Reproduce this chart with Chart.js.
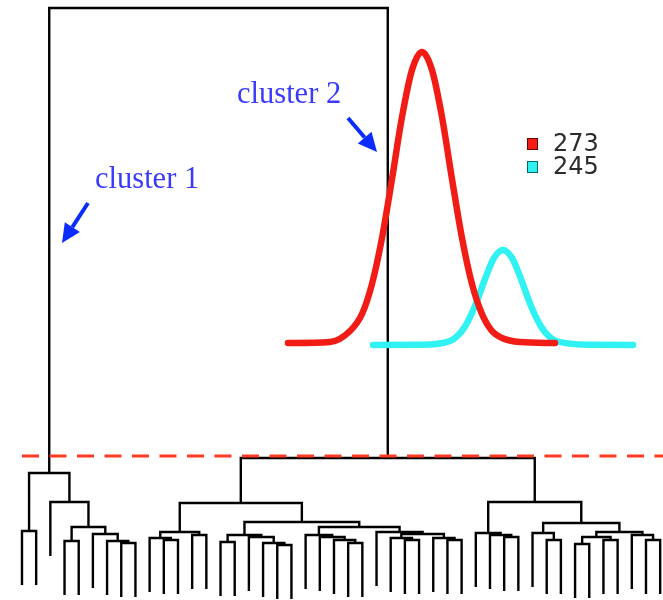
<!DOCTYPE html>
<html>
<head>
<meta charset="utf-8">
<script src="https://cdn.jsdelivr.net/npm/chart.js@4.4.1/dist/chart.umd.min.js"></script>
<style>
  html, body { margin: 0; padding: 0; background: #fff; }
</style>
</head>
<body>
<canvas id="dendro" width="663" height="600"></canvas>
<script>
// hclust-style merge table: negative = leaf (plot order), positive = earlier merge row
const merges = [
  [-1, -2], [-4, -5], [-8, -9], [-7, 3], [-6, 4], [2, 5], [-3, 6], [1, 7],
  [-11, -12], [-10, 9], [-13, -14], [10, 11],
  [-15, -16], [-19, -20], [-18, 14], [-17, 15], [13, 16],
  [-24, -25], [-23, 18], [-22, 19], [-21, 20],
  [-28, -29], [-27, 22], [-31, -32], [-30, 24], [23, 25], [-26, 26],
  [21, 27], [17, 28], [12, 29],
  [-35, -36], [-34, 31], [-33, 32],
  [-38, -39], [-37, 34],
  [-40, -41], [-42, -43], [36, 37], [-45, -46], [-44, 39], [38, 40],
  [35, 41], [33, 42], [30, 43], [8, 44]
];
const mergeHeights = [
  69, 59, 57, 59, 66, 73, 98, 127,
  60, 62, 65, 68,
  58, 55, 57, 63, 65,
  57, 60, 63, 65,
  60, 62, 60, 62, 66, 68,
  73, 78, 97,
  63, 65, 67,
  60, 67,
  56, 60, 63, 60, 65, 68,
  77, 98, 142, 592
];
const hang = 54;
const cutHeight = 144;

// density curves of the two clusters
const seriesLabels = ['273', '245'];
const curveX273 = [288, 330, 350, 362, 372, 382, 392, 402, 412, 422, 432, 442, 452, 462, 472, 482, 492, 502, 520, 555];
const curve273  = [257, 258, 269, 286, 316, 362, 421, 483, 530, 548, 530, 483, 421, 362, 316, 286, 269, 262, 258, 257];
const curveX245 = [373, 420, 450, 457, 465, 475, 485, 494, 503, 512, 521, 531, 541, 549, 556, 590, 633];
const curve245  = [255, 255.2, 259, 263.6, 273.5, 294, 321, 342, 350, 342, 321, 294, 273.5, 263.6, 259, 255.2, 255];

const clusterLabels = ['cluster 1', 'cluster 2'];

// build the tree segments
const nodes = [];
const treePts = [];
merges.forEach(([a, b], k) => {
  const h = mergeHeights[k];
  const A = a < 0 ? { x: -a, h: h - hang } : nodes[a - 1];
  const B = b < 0 ? { x: -b, h: h - hang } : nodes[b - 1];
  treePts.push({ x: A.x, y: A.h }, { x: A.x, y: h }, { x: B.x, y: h }, { x: B.x, y: B.h }, { x: B.x, y: null });
  nodes.push({ x: (A.x + B.x) / 2, h: h });
});

const xMin = -0.55, xMax = 46.2;

const overlay = {
  id: 'overlay',
  afterDatasetsDraw(chart, args, opts) {
    const { ctx } = chart;
    const xo = chart.scales.xo, yo = chart.scales.yo;
    const px = v => xo.getPixelForValue(v), py = v => yo.getPixelForValue(v);
    ctx.save();

    ctx.font = opts.labelFont;
    ctx.fillStyle = opts.labelColor;
    ctx.textBaseline = 'alphabetic';
    opts.labels.forEach((p, i) => ctx.fillText(clusterLabels[i], px(p[0]), py(p[1])));

    ctx.strokeStyle = ctx.fillStyle = opts.arrowColor;
    ctx.lineWidth = 4;
    opts.arrows.forEach(a => {
      const x1 = px(a[0]), y1 = py(a[1]), x2 = px(a[2]), y2 = py(a[3]);
      const ang = Math.atan2(y2 - y1, x2 - x1);
      const L = 19, W = 9;
      const bx = x2 - L * Math.cos(ang), by = y2 - L * Math.sin(ang);
      ctx.beginPath();
      ctx.moveTo(x1, y1);
      ctx.lineTo(bx, by);
      ctx.stroke();
      ctx.beginPath();
      ctx.moveTo(x2, y2);
      ctx.lineTo(bx + W * Math.sin(ang), by - W * Math.cos(ang));
      ctx.lineTo(bx - W * Math.sin(ang), by + W * Math.cos(ang));
      ctx.closePath();
      ctx.fill();
    });

    // legend
    ctx.font = opts.legendFont;
    ctx.textBaseline = 'middle';
    ctx.lineWidth = 1;
    seriesLabels.forEach((lab, i) => {
      const ds = chart.data.datasets[i];
      const y = py(opts.legendAt[1]) + i * opts.legendStep;
      const x = px(opts.legendAt[0]);
      ctx.fillStyle = ds.borderColor;
      ctx.fillRect(x, y - 6, 11, 12);
      ctx.strokeStyle = ds.boxEdge;
      ctx.strokeRect(x + 0.5, y - 5.5, 10, 11);
      ctx.fillStyle = '#2b2b2b';
      ctx.fillText(lab, x + 26, y + 1);
    });
    ctx.restore();
  }
};

new Chart(document.getElementById('dendro'), {
  type: 'line',
  data: {
    datasets: [
      {
        label: seriesLabels[0],
        data: curveX273.map((x, i) => ({ x: x, y: curve273[i] })),
        xAxisID: 'xo', yAxisID: 'yo',
        borderColor: '#f21c17', boxEdge: '#6a0000',
        borderWidth: 6.5, borderCapStyle: 'round',
        cubicInterpolationMode: 'monotone', order: 0
      },
      {
        label: seriesLabels[1],
        data: curveX245.map((x, i) => ({ x: x, y: curve245[i] })),
        xAxisID: 'xo', yAxisID: 'yo',
        borderColor: '#30f2f2', boxEdge: '#006a6a',
        borderWidth: 6.5, borderCapStyle: 'round',
        cubicInterpolationMode: 'monotone', order: 1
      },
      {
        label: 'cut',
        data: [{ x: 1, y: cutHeight }, { x: xMax, y: cutHeight }],
        borderColor: '#ff3b25', borderWidth: 3, borderDash: [17, 10.5], order: 2
      },
      {
        label: 'tree',
        data: treePts,
        borderColor: '#000', borderWidth: 2.4, spanGaps: false, order: 3
      }
    ]
  },
  options: {
    responsive: false,
    animation: false,
    layout: { padding: 0 },
    elements: { point: { radius: 0 }, line: { tension: 0 } },
    scales: {
      x: { type: 'linear', min: xMin, max: xMax, display: false },
      y: { type: 'linear', min: 0, max: 600, display: false },
      xo: { type: 'linear', axis: 'x', min: 0, max: 663, display: false },
      yo: { type: 'linear', axis: 'y', min: 0, max: 600, display: false }
    },
    plugins: {
      legend: { display: false },
      tooltip: { enabled: false },
      overlay: {
        labelFont: '30.5px "Liberation Serif"',
        labelColor: '#3a3aff',
        labels: [[95, 412], [237, 497]],
        arrowColor: '#0b2cff',
        arrows: [[88, 397, 62, 357], [348, 482, 377, 448]],
        legendFont: '24px "DejaVu Sans"',
        legendAt: [527, 456],
        legendStep: 23
      }
    }
  },
  plugins: [overlay]
});
</script>
</body>
</html>
